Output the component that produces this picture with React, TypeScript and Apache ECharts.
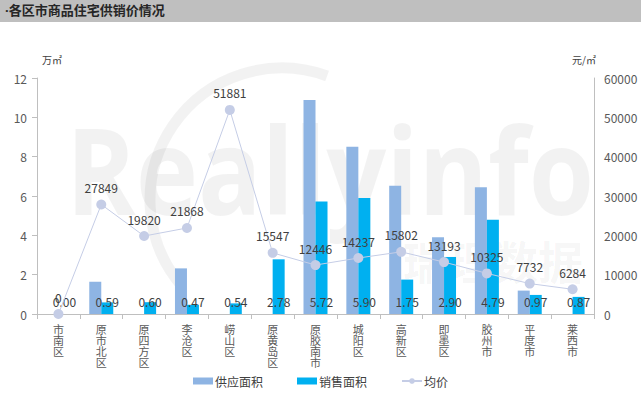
import React, { useEffect, useRef } from "react";
import * as echarts from "echarts";

const categories = ["市南区", "原市北区", "原四方区", "李沧区", "崂山区", "原黄岛区", "原胶南市", "城阳区", "高新区", "即墨区", "胶州市", "平度市", "莱西市"];
const supplyArea = [0, 1.64, 0, 2.32, 0, 0, 10.88, 8.5, 6.52, 3.9, 6.44, 1.19, 0];
const salesArea = [0, 0.59, 0.6, 0.47, 0.54, 2.78, 5.72, 5.9, 1.75, 2.9, 4.79, 0.97, 0.87];
const avgPrice = [0, 27849, 19820, 21868, 51881, 15547, 12446, 14237, 15802, 13193, 10325, 7732, 6284];
const leftTicks = [0, 2, 4, 6, 8, 10, 12];
const rightTicks = [0, 10000, 20000, 30000, 40000, 50000, 60000];

const FONT = "'Noto Sans CJK SC', 'Noto Sans', sans-serif";

export default function App() {
  const ref = useRef<HTMLDivElement>(null);
  useEffect(() => {
    if (!ref.current) return;
    const chart = echarts.init(ref.current, undefined, { renderer: "svg" });
    chart.setOption({
      animation: false,
      backgroundColor: "#ffffff",
      textStyle: { fontFamily: FONT },
      graphic: [
        { type: "rect", left: 0, top: 0, shape: { width: 641, height: 22 }, style: { fill: "#bfbfbf" }, z: -1 },
        { type: "text", left: 5, top: 3, style: { text: "·各区市商品住宅供销价情况", fontSize: 13, fontWeight: "bold", fill: "#262626", fontFamily: "'Open Sans', 'Noto Sans CJK SC', sans-serif" } },
        {
          type: "arc",
          shape: { cx: 282, cy: 200, r: 132, startAngle: (139 * Math.PI) / 180, endAngle: (290 * Math.PI) / 180, clockwise: true },
          style: { stroke: "rgba(0,0,0,0.05)", lineWidth: 11, fill: "none" },
          z: -1,
          silent: true,
        },
        { type: "text", x: 66, y: 108, scaleX: 0.88, style: { text: "Reallyinfo", fontSize: 120, fontWeight: "bold", fill: "rgba(0,0,0,0.05)", fontFamily: "'Open Sans', sans-serif" }, z: -1, silent: true },
        { type: "text", left: 403, top: 238, style: { text: "瑞理数据", fontSize: 45, fontWeight: "bold", fill: "rgba(0,0,0,0.05)", fontFamily: FONT }, z: -1, silent: true },
      ],
      grid: { left: 37, right: 47, top: 78, bottom: 81 },
      legend: {
        bottom: 3,
        left: "center",
        itemWidth: 20,
        itemHeight: 7,
        itemGap: 34,
        textStyle: { fontSize: 12, color: "#404040", padding: [0, 0, 0, -3] },
        data: [
          { name: "供应面积", icon: "rect" },
          { name: "销售面积", icon: "rect" },
          { name: "均价" },
        ],
      },
      xAxis: {
        type: "category",
        data: categories,
        axisLine: { lineStyle: { color: "#bfbfbf" } },
        axisTick: { show: true, length: 5, lineStyle: { color: "#bfbfbf" } },
        axisLabel: {
          color: "#595959",
          fontSize: 11,
          lineHeight: 10.8,
          margin: 10,
          interval: 0,
          formatter: (v: string) => v.split("").join("\n"),
        },
      },
      yAxis: [
        {
          type: "value",
          min: 0,
          max: 12,
          interval: 2,
          name: "万㎡",
          nameGap: 14,
          nameTextStyle: { fontSize: 10, color: "#404040", padding: [0, 0, 0, 30] },
          axisLine: { show: true, lineStyle: { color: "#bfbfbf" } },
          axisTick: { show: true, length: 5, lineStyle: { color: "#bfbfbf" } },
          axisLabel: { color: "#595959", fontSize: 12, margin: 10, formatter: (v: number) => (leftTicks.includes(v) ? String(v) : "") },
          splitLine: { show: false },
        },
        {
          type: "value",
          min: 0,
          max: 60000,
          interval: 10000,
          name: "元/㎡",
          nameGap: 14,
          nameTextStyle: { fontSize: 10, color: "#404040", padding: [0, 20, 0, 0] },
          axisLine: { show: true, lineStyle: { color: "#bfbfbf" } },
          axisTick: { show: false },
          axisLabel: { color: "#595959", fontSize: 12, margin: 10, formatter: (v: number) => (rightTicks.includes(v) ? String(v) : "") },
          splitLine: { show: false },
        },
      ],
      series: [
        {
          name: "供应面积",
          type: "bar",
          data: supplyArea,
          barWidth: 12,
          barGap: "0%",
          itemStyle: { color: "#8eb4e3" },
        },
        {
          name: "销售面积",
          type: "bar",
          data: salesArea,
          barWidth: 12,
          barGap: "0%",
          itemStyle: { color: "#00b0f0" },
          label: {
            show: true,
            position: "insideBottom",
            distance: 7,
            color: "#404040",
            fontSize: 12,
            formatter: (p: any) => Number(p.value).toFixed(2),
          },
        },
        {
          name: "均价",
          type: "line",
          yAxisIndex: 1,
          data: avgPrice,
          symbol: "circle",
          symbolSize: 10,
          itemStyle: { color: "#c5cde6" },
          lineStyle: { color: "#c5cde6", width: 1 },
          label: { show: true, position: "top", distance: 6, color: "#404040", fontSize: 12 },
          z: 5,
        },
      ],
    });
    return () => chart.dispose();
  }, []);
  return <div ref={ref} style={{ position: "absolute", left: 0, top: 0, width: 641, height: 395 }} />;
}
